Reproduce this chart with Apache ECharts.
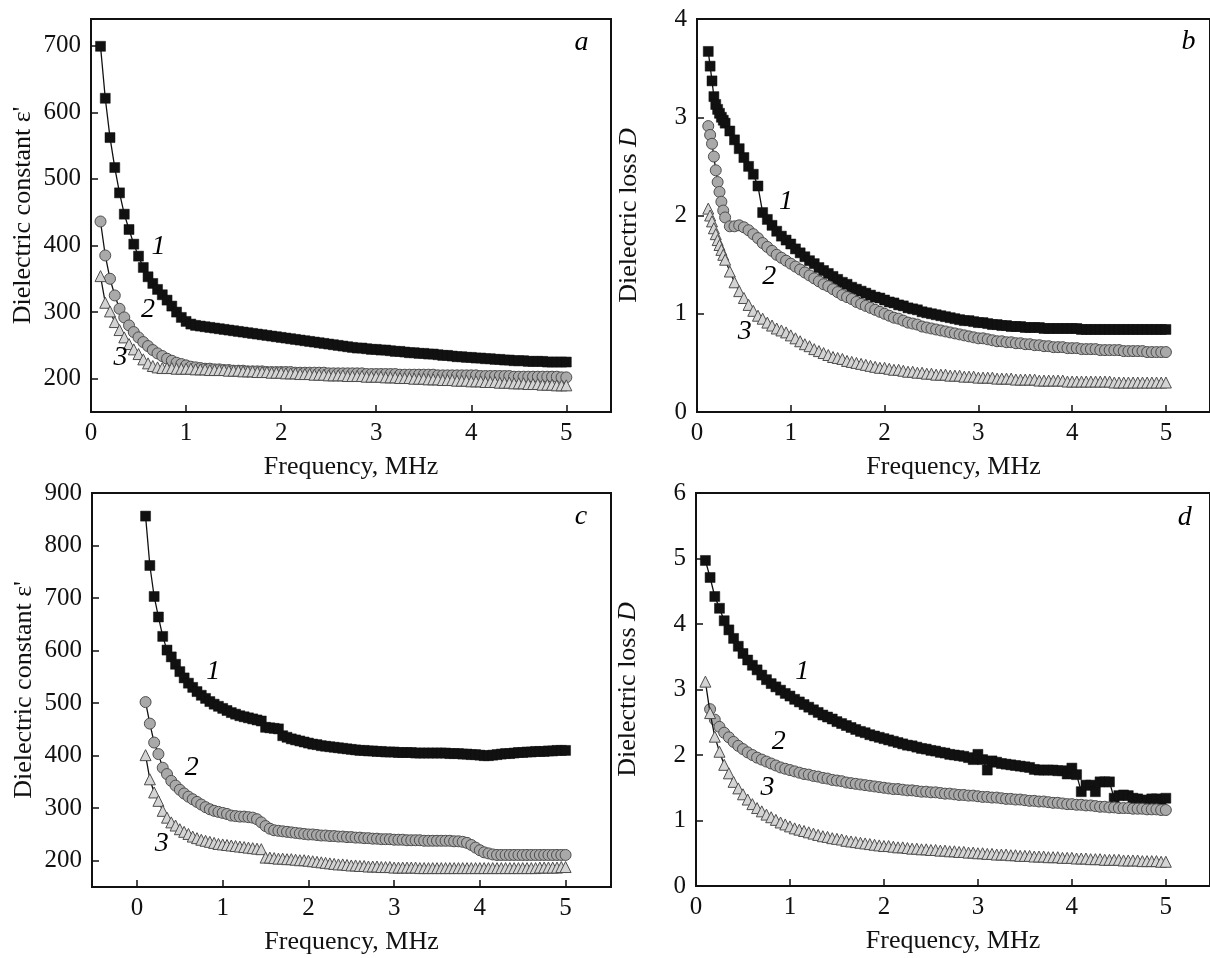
<!DOCTYPE html>
<html>
<head>
<meta charset="utf-8">
<script src="https://cdn.jsdelivr.net/npm/echarts@6/dist/echarts.min.js"></script>
<style>
  html, body { margin: 0; background: #fff; }
  #chart { width: 1210px; height: 958px; }
</style>
</head>
<body>
<div id="chart"></div>
<script>
// frequency grid (MHz) used by panels a, c, d
const freq = [
  0.1, 0.15, 0.2, 0.25, 0.3, 0.35, 0.4, 0.45, 0.5, 0.55,
  0.6, 0.65, 0.7, 0.75, 0.8, 0.85, 0.9, 0.95, 1, 1.05,
  1.1, 1.15, 1.2, 1.25, 1.3, 1.35, 1.4, 1.45, 1.5, 1.55,
  1.6, 1.65, 1.7, 1.75, 1.8, 1.85, 1.9, 1.95, 2, 2.05,
  2.1, 2.15, 2.2, 2.25, 2.3, 2.35, 2.4, 2.45, 2.5, 2.55,
  2.6, 2.65, 2.7, 2.75, 2.8, 2.85, 2.9, 2.95, 3, 3.05,
  3.1, 3.15, 3.2, 3.25, 3.3, 3.35, 3.4, 3.45, 3.5, 3.55,
  3.6, 3.65, 3.7, 3.75, 3.8, 3.85, 3.9, 3.95, 4, 4.05,
  4.1, 4.15, 4.2, 4.25, 4.3, 4.35, 4.4, 4.45, 4.5, 4.55,
  4.6, 4.65, 4.7, 4.75, 4.8, 4.85, 4.9, 4.95, 5
];

// panel b was sampled more finely at the start
const freqB = [
  0.12, 0.14, 0.16, 0.18, 0.2, 0.22, 0.24, 0.26, 0.28, 0.3,
  0.35, 0.4, 0.45, 0.5, 0.55, 0.6, 0.65, 0.7, 0.75, 0.8,
  0.85, 0.9, 0.95, 1, 1.05, 1.1, 1.15, 1.2, 1.25, 1.3,
  1.35, 1.4, 1.45, 1.5, 1.55, 1.6, 1.65, 1.7, 1.75, 1.8,
  1.85, 1.9, 1.95, 2, 2.05, 2.1, 2.15, 2.2, 2.25, 2.3,
  2.35, 2.4, 2.45, 2.5, 2.55, 2.6, 2.65, 2.7, 2.75, 2.8,
  2.85, 2.9, 2.95, 3, 3.05, 3.1, 3.15, 3.2, 3.25, 3.3,
  3.35, 3.4, 3.45, 3.5, 3.55, 3.6, 3.65, 3.7, 3.75, 3.8,
  3.85, 3.9, 3.95, 4, 4.05, 4.1, 4.15, 4.2, 4.25, 4.3,
  4.35, 4.4, 4.45, 4.5, 4.55, 4.6, 4.65, 4.7, 4.75, 4.8,
  4.85, 4.9, 4.95, 5
];

// --- panel a: dielectric constant
const a1 = [
  699, 621, 562, 517, 479, 447, 424, 402, 384, 367,
  353, 343, 334, 326, 318, 309, 300, 292, 286, 282,
  280, 279, 278, 277, 276, 275, 274, 273, 272, 271,
  270, 269, 268, 267, 266, 265, 264, 263, 262, 261,
  260, 259, 258, 257, 256, 255, 254, 253, 252, 251,
  250, 249, 248, 247, 246, 246, 245, 244, 244, 243,
  243, 242, 241, 241, 240, 239, 239, 238, 238, 237,
  237, 236, 235, 235, 234, 233, 233, 232, 232, 231,
  231, 230, 230, 229, 229, 228, 228, 227, 227, 227,
  226, 226, 226, 226, 225, 225, 225, 225, 225
];
const a2 = [
  436, 385, 350, 325, 305, 292, 280, 270, 262, 255,
  249, 243, 238, 234, 230, 227, 224, 222, 220, 218,
  217, 216, 215, 215, 214, 214, 213, 213, 212, 212,
  212, 211, 211, 211, 211, 210, 210, 210, 210, 210,
  210, 209, 209, 209, 209, 209, 209, 209, 208, 208,
  208, 208, 208, 208, 208, 208, 207, 207, 207, 207,
  207, 207, 207, 206, 206, 206, 206, 206, 206, 206,
  206, 205, 205, 205, 205, 205, 205, 205, 205, 205,
  204, 204, 204, 204, 204, 204, 204, 203, 203, 203,
  203, 203, 203, 203, 203, 203, 203, 202, 202
];
const a3 = [
  354, 314, 301, 285, 273, 262, 252, 244, 237, 229,
  223, 219, 217, 216, 216, 216, 215, 215, 215, 215,
  214, 214, 214, 213, 213, 213, 213, 212, 212, 212,
  211, 211, 211, 210, 210, 210, 209, 209, 209, 208,
  208, 208, 207, 207, 207, 206, 206, 206, 205, 205,
  205, 205, 204, 204, 204, 204, 203, 203, 203, 203,
  202, 202, 202, 201, 201, 201, 200, 200, 200, 199,
  199, 199, 198, 198, 198, 197, 197, 197, 196, 196,
  196, 195, 195, 195, 194, 194, 194, 193, 193, 193,
  192, 192, 192, 191, 191, 191, 190, 190, 190
];

// --- panel b: dielectric loss
const b1 = [
  3.67, 3.52, 3.37, 3.21, 3.13, 3.08, 3.04, 3.00, 2.97, 2.94,
  2.86, 2.77, 2.68, 2.59, 2.50, 2.42, 2.30, 2.03, 1.96, 1.90,
  1.84, 1.79, 1.75, 1.71, 1.66, 1.62, 1.58, 1.54, 1.51, 1.47,
  1.44, 1.41, 1.38, 1.35, 1.32, 1.30, 1.27, 1.25, 1.23, 1.21,
  1.19, 1.17, 1.16, 1.14, 1.12, 1.11, 1.09, 1.08, 1.06, 1.05,
  1.04, 1.02, 1.01, 1.00, 0.99, 0.98, 0.97, 0.96, 0.95, 0.94,
  0.93, 0.93, 0.92, 0.91, 0.91, 0.90, 0.89, 0.89, 0.88, 0.88,
  0.87, 0.87, 0.87, 0.86, 0.86, 0.86, 0.86, 0.85, 0.85, 0.85,
  0.85, 0.85, 0.85, 0.85, 0.85, 0.84, 0.84, 0.84, 0.84, 0.84,
  0.84, 0.84, 0.84, 0.84, 0.84, 0.84, 0.84, 0.84, 0.84, 0.84,
  0.84, 0.84, 0.84, 0.84
];
const b2 = [
  2.91, 2.82, 2.73, 2.60, 2.46, 2.34, 2.24, 2.14, 2.05, 1.98,
  1.89, 1.89, 1.90, 1.88, 1.85, 1.81, 1.77, 1.72, 1.68, 1.64,
  1.60, 1.57, 1.54, 1.51, 1.48, 1.45, 1.42, 1.39, 1.36, 1.33,
  1.30, 1.28, 1.25, 1.22, 1.19, 1.17, 1.15, 1.12, 1.10, 1.08,
  1.06, 1.04, 1.02, 1.00, 0.98, 0.96, 0.95, 0.93, 0.91, 0.90,
  0.89, 0.87, 0.86, 0.85, 0.84, 0.83, 0.82, 0.81, 0.80, 0.79,
  0.78, 0.77, 0.76, 0.75, 0.75, 0.74, 0.73, 0.72, 0.72, 0.71,
  0.71, 0.70, 0.70, 0.69, 0.69, 0.68, 0.68, 0.67, 0.67, 0.66,
  0.66, 0.66, 0.65, 0.65, 0.65, 0.64, 0.64, 0.64, 0.64, 0.63,
  0.63, 0.63, 0.63, 0.63, 0.62, 0.62, 0.62, 0.62, 0.62, 0.61,
  0.61, 0.61, 0.61, 0.61
];
const b3 = [
  2.07, 2.00, 1.94, 1.87, 1.81, 1.75, 1.70, 1.65, 1.60, 1.55,
  1.43, 1.32, 1.23, 1.16, 1.09, 1.03, 0.98, 0.95, 0.91, 0.88,
  0.85, 0.83, 0.81, 0.78, 0.75, 0.72, 0.69, 0.67, 0.64, 0.62,
  0.60, 0.58, 0.56, 0.55, 0.54, 0.52, 0.51, 0.50, 0.49, 0.48,
  0.47, 0.46, 0.45, 0.45, 0.44, 0.43, 0.43, 0.42, 0.41, 0.41,
  0.40, 0.40, 0.39, 0.39, 0.38, 0.38, 0.38, 0.37, 0.37, 0.37,
  0.36, 0.36, 0.36, 0.35, 0.35, 0.35, 0.35, 0.34, 0.34, 0.34,
  0.34, 0.33, 0.33, 0.33, 0.33, 0.33, 0.32, 0.32, 0.32, 0.32,
  0.32, 0.32, 0.31, 0.31, 0.31, 0.31, 0.31, 0.31, 0.31, 0.31,
  0.31, 0.31, 0.30, 0.30, 0.30, 0.30, 0.30, 0.30, 0.30, 0.30,
  0.30, 0.30, 0.30, 0.30
];

// --- panel c: dielectric constant
const c1 = [
  856, 762, 703, 664, 627, 601, 588, 574, 560, 548,
  538, 530, 522, 515, 509, 503, 498, 494, 490, 486,
  482, 479, 476, 474, 472, 470, 468, 466, 454, 453,
  452, 451, 438, 435, 432, 430, 428, 426, 424, 422,
  421, 419, 418, 417, 416, 415, 414, 413, 412, 411,
  410, 410, 409, 409, 408, 408, 407, 407, 407, 406,
  406, 406, 406, 405, 405, 405, 405, 405, 405, 405,
  405, 404, 404, 404, 403, 403, 402, 402, 401, 400,
  400, 401, 402, 403, 404, 404, 405, 406, 406, 407,
  407, 408, 408, 408, 409, 409, 410, 410, 410
];
const c2 = [
  502, 461, 425, 403, 377, 365, 352, 343, 335, 328,
  322, 317, 312, 307, 302, 298, 295, 293, 291, 289,
  286, 285, 284, 284, 283, 282, 279, 273, 266, 261,
  258, 257, 256, 255, 254, 253, 252, 251, 250, 250,
  249, 248, 248, 247, 247, 246, 246, 245, 245, 244,
  244, 243, 243, 242, 242, 241, 241, 241, 240, 240,
  240, 239, 239, 239, 239, 238, 238, 238, 238, 238,
  238, 238, 237, 237, 236, 234, 230, 225, 220, 216,
  214, 212, 211, 211, 211, 211, 211, 211, 211, 211,
  211, 211, 211, 211, 211, 211, 211, 211, 211
];
const c3 = [
  401, 355, 330, 314, 295, 282, 273, 267, 260, 255,
  251, 246, 243, 240, 238, 236, 234, 232, 231, 230,
  229, 228, 227, 226, 225, 224, 223, 222, 206, 206,
  205, 204, 204, 203, 203, 202, 201, 201, 200, 199,
  198, 197, 196, 195, 194, 193, 193, 192, 191, 191,
  190, 190, 189, 189, 189, 188, 188, 188, 187, 187,
  187, 187, 187, 187, 186, 186, 186, 186, 186, 186,
  186, 186, 186, 186, 186, 186, 186, 186, 186, 186,
  186, 186, 186, 186, 186, 186, 186, 186, 186, 186,
  186, 186, 187, 187, 187, 187, 187, 188, 188
];

// --- panel d: dielectric loss
const d1 = [
  4.97, 4.71, 4.42, 4.24, 4.05, 3.91, 3.78, 3.66, 3.55, 3.45,
  3.37, 3.30, 3.22, 3.15, 3.09, 3.04, 2.99, 2.94, 2.90, 2.85,
  2.81, 2.77, 2.73, 2.69, 2.65, 2.61, 2.58, 2.55, 2.51, 2.48,
  2.45, 2.42, 2.39, 2.36, 2.34, 2.31, 2.29, 2.27, 2.25, 2.23,
  2.21, 2.19, 2.17, 2.15, 2.14, 2.12, 2.10, 2.09, 2.07, 2.06,
  2.04, 2.03, 2.01, 2.00, 1.99, 1.98, 1.96, 1.93, 2.01, 1.93,
  1.77, 1.91, 1.89, 1.87, 1.86, 1.85, 1.84, 1.83, 1.82, 1.81,
  1.78, 1.77, 1.77, 1.77, 1.77, 1.76, 1.76, 1.71, 1.80, 1.70,
  1.44, 1.54, 1.54, 1.44, 1.59, 1.59, 1.59, 1.34, 1.38, 1.39,
  1.38, 1.34, 1.33, 1.31, 1.31, 1.33, 1.33, 1.32, 1.34
];
const d2 = [
  null, 2.70, 2.54, 2.43, 2.34, 2.27, 2.20, 2.14, 2.09, 2.04,
  2.00, 1.96, 1.93, 1.90, 1.87, 1.84, 1.81, 1.79, 1.77, 1.75,
  1.73, 1.71, 1.70, 1.68, 1.67, 1.65, 1.64, 1.62, 1.61, 1.60,
  1.58, 1.57, 1.56, 1.55, 1.54, 1.53, 1.52, 1.51, 1.50, 1.49,
  1.48, 1.48, 1.47, 1.46, 1.46, 1.45, 1.44, 1.44, 1.43, 1.43,
  1.42, 1.41, 1.41, 1.40, 1.39, 1.39, 1.38, 1.38, 1.37, 1.36,
  1.36, 1.35, 1.35, 1.34, 1.33, 1.33, 1.32, 1.32, 1.31, 1.30,
  1.30, 1.29, 1.29, 1.28, 1.27, 1.27, 1.26, 1.25, 1.25, 1.24,
  1.24, 1.23, 1.23, 1.22, 1.21, 1.21, 1.20, 1.20, 1.19, 1.19,
  1.19, 1.18, 1.18, 1.18, 1.17, 1.17, 1.17, 1.16, 1.16
];
const d3 = [
  3.12, 2.64, 2.28, 2.05, 1.85, 1.72, 1.59, 1.49, 1.40, 1.32,
  1.25, 1.19, 1.14, 1.09, 1.05, 1.01, 0.97, 0.94, 0.91, 0.88,
  0.86, 0.84, 0.82, 0.80, 0.78, 0.76, 0.75, 0.73, 0.72, 0.71,
  0.69, 0.68, 0.67, 0.66, 0.65, 0.64, 0.63, 0.62, 0.61, 0.61,
  0.60, 0.59, 0.59, 0.58, 0.57, 0.57, 0.56, 0.56, 0.55, 0.55,
  0.54, 0.54, 0.53, 0.53, 0.52, 0.52, 0.51, 0.51, 0.50, 0.50,
  0.49, 0.49, 0.48, 0.48, 0.48, 0.47, 0.47, 0.46, 0.46, 0.46,
  0.45, 0.45, 0.45, 0.44, 0.44, 0.44, 0.43, 0.43, 0.43, 0.42,
  0.42, 0.42, 0.41, 0.41, 0.41, 0.40, 0.40, 0.40, 0.40, 0.39,
  0.39, 0.39, 0.39, 0.38, 0.38, 0.38, 0.38, 0.37, 0.37
];

// curve numbers and panel letters, in data coordinates [x, y, text]
const notesA = [[0.71, 398, '1'], [0.6, 304, '2'], [0.31, 232, '3'], [5.16, 704, 'a']];
const notesB = [[0.95, 2.14, '1'], [0.77, 1.38, '2'], [0.51, 0.82, '3'], [5.24, 3.77, 'b']];
const notesC = [[0.89, 559, '1'], [0.64, 378, '2'], [0.29, 232, '3'], [5.18, 855, 'c']];
const notesD = [[1.13, 3.27, '1'], [0.88, 2.2, '2'], [0.76, 1.5, '3'], [5.2, 5.63, 'd']];

const FONT = 'Liberation Serif';
const INK = '#111';

const chart = echarts.init(document.getElementById('chart'));

function xAxis(gi, min, max, ticks, labels) {
  return {
    gridIndex: gi, type: 'value', min, max,
    name: 'Frequency, MHz', nameLocation: 'middle', nameGap: 42,
    nameTextStyle: { fontFamily: FONT, fontSize: 26, color: INK },
    axisLine: { show: true, onZero: false, lineStyle: { color: INK, width: 2 } },
    axisTick: { show: true, inside: true, length: 7, customValues: ticks, lineStyle: { color: INK, width: 1.5 } },
    axisLabel: { customValues: labels, margin: 9, fontFamily: FONT, fontSize: 25, color: INK },
    splitLine: { show: false }
  };
}

function yAxis(gi, min, max, ticks, labels, name) {
  return {
    gridIndex: gi, type: 'value', min, max,
    name, nameLocation: 'middle', nameGap: 55,
    nameTextStyle: {
      fontFamily: FONT, fontSize: 26, color: INK,
      rich: { i: { fontFamily: FONT, fontSize: 26, color: INK, fontStyle: 'italic' } }
    },
    axisLine: { show: true, onZero: false, lineStyle: { color: INK, width: 2 } },
    axisTick: { show: true, inside: true, length: 7, customValues: ticks, lineStyle: { color: INK, width: 1.5 } },
    axisLabel: { customValues: labels, margin: 10, fontFamily: FONT, fontSize: 25, color: INK },
    splitLine: { show: false }
  };
}

const marks = {
  1: { symbol: 'rect', symbolSize: 10, itemStyle: { color: '#111', borderColor: '#111', borderWidth: 0.5 } },
  2: { symbol: 'circle', symbolSize: 11, itemStyle: { color: '#a9a9a9', borderColor: '#4d4d4d', borderWidth: 1 } },
  3: { symbol: 'triangle', symbolSize: 11, itemStyle: { color: '#d4d4d4', borderColor: '#4d4d4d', borderWidth: 1 } }
};

function curve(gi, xs, ys, kind) {
  const data = [];
  ys.forEach((v, i) => { if (v != null) data.push([xs[i], v]); });
  return Object.assign({
    type: 'line', xAxisIndex: gi, yAxisIndex: gi, data,
    showSymbol: true, showAllSymbol: true, silent: true,
    lineStyle: { color: '#111', width: 1.3 },
    z: 2 + kind
  }, marks[kind]);
}

function notes(gi, pts) {
  return {
    type: 'scatter', xAxisIndex: gi, yAxisIndex: gi, data: pts,
    symbolSize: 0, silent: true, z: 10,
    itemStyle: { opacity: 1 },
    label: {
      show: true, position: 'inside', formatter: p => p.data[2],
      fontFamily: FONT, fontStyle: 'italic', fontSize: 28, color: '#000'
    }
  };
}

const gridStyle = { show: true, borderColor: INK, borderWidth: 2, backgroundColor: 'transparent' };

chart.setOption({
  animation: false,
  grid: [
    Object.assign({ left: 91, top: 19, width: 520, height: 393 }, gridStyle),
    Object.assign({ left: 697, top: 19, width: 520, height: 393 }, gridStyle),
    Object.assign({ left: 92, top: 493, width: 519, height: 394 }, gridStyle),
    Object.assign({ left: 696, top: 493, width: 520, height: 393 }, gridStyle)
  ],
  xAxis: [
    xAxis(0, 0, 5.47, [1, 2, 3, 4, 5], [0, 1, 2, 3, 4, 5]),
    xAxis(1, 0, 5.47, [1, 2, 3, 4, 5], [0, 1, 2, 3, 4, 5]),
    xAxis(2, -0.525, 5.53, [0, 1, 2, 3, 4, 5], [0, 1, 2, 3, 4, 5]),
    xAxis(3, 0, 5.47, [1, 2, 3, 4, 5], [0, 1, 2, 3, 4, 5])
  ],
  yAxis: [
    yAxis(0, 150, 740, [200, 300, 400, 500, 600, 700], [200, 300, 400, 500, 600, 700], "Dielectric constant ε'"),
    yAxis(1, 0, 4, [1, 2, 3], [0, 1, 2, 3, 4], 'Dielectric loss {i|D}'),
    yAxis(2, 150, 900, [200, 300, 400, 500, 600, 700, 800], [200, 300, 400, 500, 600, 700, 800, 900], "Dielectric constant ε'"),
    yAxis(3, 0, 6, [1, 2, 3, 4, 5], [0, 1, 2, 3, 4, 5, 6], 'Dielectric loss {i|D}')
  ],
  series: [
    curve(0, freq, a1, 1), curve(0, freq, a2, 2), curve(0, freq, a3, 3), notes(0, notesA),
    curve(1, freqB, b1, 1), curve(1, freqB, b2, 2), curve(1, freqB, b3, 3), notes(1, notesB),
    curve(2, freq, c1, 1), curve(2, freq, c2, 2), curve(2, freq, c3, 3), notes(2, notesC),
    curve(3, freq, d1, 1), curve(3, freq, d2, 2), curve(3, freq, d3, 3), notes(3, notesD)
  ]
});
</script>
</body>
</html>
